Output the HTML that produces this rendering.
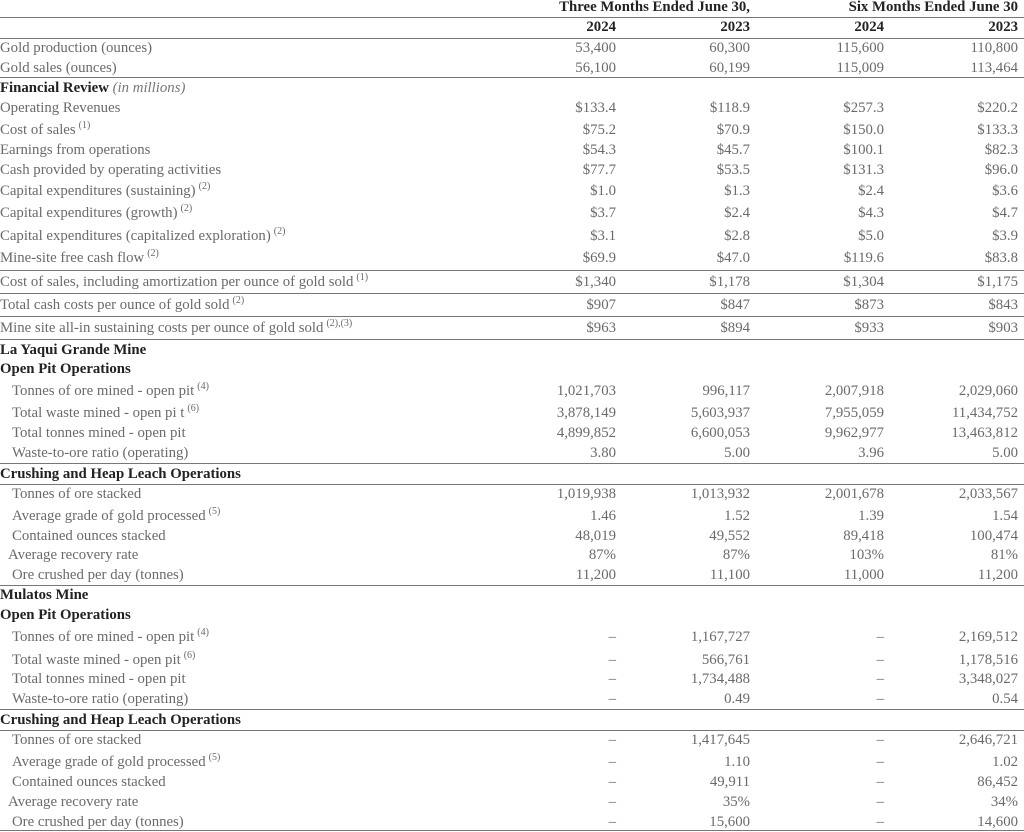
<!DOCTYPE html>
<html><head><meta charset="utf-8"><style>
html,body{margin:0;padding:0;background:#fff;}
body{width:1024px;height:832px;position:relative;overflow:hidden;font-family:"Liberation Serif",serif;font-size:14.8px;color:#6a6a6a;}
.r{position:absolute;left:0;width:1024px;height:18px;line-height:18px;white-space:nowrap;}
.l{position:absolute;left:0;}
.i{left:12px;}.i8{left:8px;}
.v{position:absolute;text-align:right;width:130px;}
.c1{right:408px;}.c2{right:274px;}.c3{right:140px;}.c4{right:6px;}
.b{font-weight:bold;color:#222;}
sup{font-size:10px;vertical-align:6px;line-height:0;margin-left:3px;}
.ln{position:absolute;left:0;width:1024px;height:0;border-top:1.5px solid #777;}
.em{font-style:italic;font-weight:normal;color:#777;}
</style></head><body>
<div class="r b" style="top:-2px"><span class="v" style="width:300px;right:274px">Three Months Ended June 30,</span><span class="v c4" style="width:300px">Six Months Ended June 30</span></div>
<div class="ln" style="top:17px"></div>
<div class="r b" style="top:18px"><span class="v c1">2024</span><span class="v c2">2023</span><span class="v c3">2024</span><span class="v c4">2023</span></div>
<div class="ln" style="top:38px"></div>
<div class="r" style="top:39px"><span class="l">Gold production (ounces)</span><span class="v c1">53,400</span><span class="v c2">60,300</span><span class="v c3">115,600</span><span class="v c4">110,800</span></div>
<div class="r" style="top:59px"><span class="l">Gold sales (ounces)</span><span class="v c1">56,100</span><span class="v c2">60,199</span><span class="v c3">115,009</span><span class="v c4">113,464</span></div>
<div class="ln" style="top:77px"></div>
<div class="r" style="top:79px"><span class="l b">Financial Review <span class="em">(in millions)</span></span></div>
<div class="r" style="top:99px"><span class="l">Operating Revenues</span><span class="v c1">$133.4</span><span class="v c2">$118.9</span><span class="v c3">$257.3</span><span class="v c4">$220.2</span></div>
<div class="r" style="top:121px"><span class="l">Cost of sales<sup>(1)</sup></span><span class="v c1">$75.2</span><span class="v c2">$70.9</span><span class="v c3">$150.0</span><span class="v c4">$133.3</span></div>
<div class="r" style="top:141px"><span class="l">Earnings from operations</span><span class="v c1">$54.3</span><span class="v c2">$45.7</span><span class="v c3">$100.1</span><span class="v c4">$82.3</span></div>
<div class="r" style="top:161px"><span class="l">Cash provided by operating activities</span><span class="v c1">$77.7</span><span class="v c2">$53.5</span><span class="v c3">$131.3</span><span class="v c4">$96.0</span></div>
<div class="r" style="top:182px"><span class="l">Capital expenditures (sustaining)<sup>(2)</sup></span><span class="v c1">$1.0</span><span class="v c2">$1.3</span><span class="v c3">$2.4</span><span class="v c4">$3.6</span></div>
<div class="r" style="top:204px"><span class="l">Capital expenditures (growth)<sup>(2)</sup></span><span class="v c1">$3.7</span><span class="v c2">$2.4</span><span class="v c3">$4.3</span><span class="v c4">$4.7</span></div>
<div class="r" style="top:227px"><span class="l">Capital expenditures (capitalized exploration)<sup>(2)</sup></span><span class="v c1">$3.1</span><span class="v c2">$2.8</span><span class="v c3">$5.0</span><span class="v c4">$3.9</span></div>
<div class="r" style="top:249px"><span class="l">Mine-site free cash flow<sup>(2)</sup></span><span class="v c1">$69.9</span><span class="v c2">$47.0</span><span class="v c3">$119.6</span><span class="v c4">$83.8</span></div>
<div class="ln" style="top:270px"></div>
<div class="r" style="top:273px"><span class="l">Cost of sales, including amortization per ounce of gold sold<sup>(1)</sup></span><span class="v c1">$1,340</span><span class="v c2">$1,178</span><span class="v c3">$1,304</span><span class="v c4">$1,175</span></div>
<div class="ln" style="top:293px"></div>
<div class="r" style="top:296px"><span class="l">Total cash costs per ounce of gold sold<sup>(2)</sup></span><span class="v c1">$907</span><span class="v c2">$847</span><span class="v c3">$873</span><span class="v c4">$843</span></div>
<div class="ln" style="top:316px"></div>
<div class="r" style="top:319px"><span class="l">Mine site all-in sustaining costs per ounce of gold sold<sup>(2),(3)</sup></span><span class="v c1">$963</span><span class="v c2">$894</span><span class="v c3">$933</span><span class="v c4">$903</span></div>
<div class="ln" style="top:339px"></div>
<div class="r" style="top:341px"><span class="l b">La Yaqui Grande Mine</span></div>
<div class="r" style="top:360px"><span class="l b">Open Pit Operations</span></div>
<div class="r" style="top:382px"><span class="l i">Tonnes of ore mined - open pit<sup>(4)</sup></span><span class="v c1">1,021,703</span><span class="v c2">996,117</span><span class="v c3">2,007,918</span><span class="v c4">2,029,060</span></div>
<div class="r" style="top:404px"><span class="l i">Total waste mined - open pi t<sup>(6)</sup></span><span class="v c1">3,878,149</span><span class="v c2">5,603,937</span><span class="v c3">7,955,059</span><span class="v c4">11,434,752</span></div>
<div class="r" style="top:424px"><span class="l i">Total tonnes mined - open pit</span><span class="v c1">4,899,852</span><span class="v c2">6,600,053</span><span class="v c3">9,962,977</span><span class="v c4">13,463,812</span></div>
<div class="r" style="top:444px"><span class="l i">Waste-to-ore ratio (operating)</span><span class="v c1">3.80</span><span class="v c2">5.00</span><span class="v c3">3.96</span><span class="v c4">5.00</span></div>
<div class="ln" style="top:463px"></div>
<div class="r" style="top:465px"><span class="l b">Crushing and Heap Leach Operations</span></div>
<div class="ln" style="top:484px"></div>
<div class="r" style="top:485px"><span class="l i">Tonnes of ore stacked</span><span class="v c1">1,019,938</span><span class="v c2">1,013,932</span><span class="v c3">2,001,678</span><span class="v c4">2,033,567</span></div>
<div class="r" style="top:507px"><span class="l i">Average grade of gold processed<sup>(5)</sup></span><span class="v c1">1.46</span><span class="v c2">1.52</span><span class="v c3">1.39</span><span class="v c4">1.54</span></div>
<div class="r" style="top:527px"><span class="l i">Contained ounces stacked</span><span class="v c1">48,019</span><span class="v c2">49,552</span><span class="v c3">89,418</span><span class="v c4">100,474</span></div>
<div class="r" style="top:546px"><span class="l i8">Average recovery rate</span><span class="v c1">87%</span><span class="v c2">87%</span><span class="v c3">103%</span><span class="v c4">81%</span></div>
<div class="r" style="top:566px"><span class="l i">Ore crushed per day (tonnes)</span><span class="v c1">11,200</span><span class="v c2">11,100</span><span class="v c3">11,000</span><span class="v c4">11,200</span></div>
<div class="ln" style="top:585px"></div>
<div class="r" style="top:586px"><span class="l b">Mulatos Mine</span></div>
<div class="r" style="top:606px"><span class="l b">Open Pit Operations</span></div>
<div class="r" style="top:628px"><span class="l i">Tonnes of ore mined - open pit<sup>(4)</sup></span><span class="v c1">–</span><span class="v c2">1,167,727</span><span class="v c3">–</span><span class="v c4">2,169,512</span></div>
<div class="r" style="top:651px"><span class="l i">Total waste mined - open pit<sup>(6)</sup></span><span class="v c1">–</span><span class="v c2">566,761</span><span class="v c3">–</span><span class="v c4">1,178,516</span></div>
<div class="r" style="top:670px"><span class="l i">Total tonnes mined - open pit</span><span class="v c1">–</span><span class="v c2">1,734,488</span><span class="v c3">–</span><span class="v c4">3,348,027</span></div>
<div class="r" style="top:690px"><span class="l i">Waste-to-ore ratio (operating)</span><span class="v c1">–</span><span class="v c2">0.49</span><span class="v c3">–</span><span class="v c4">0.54</span></div>
<div class="ln" style="top:709px"></div>
<div class="r" style="top:711px"><span class="l b">Crushing and Heap Leach Operations</span></div>
<div class="ln" style="top:730px"></div>
<div class="r" style="top:731px"><span class="l i">Tonnes of ore stacked</span><span class="v c1">–</span><span class="v c2">1,417,645</span><span class="v c3">–</span><span class="v c4">2,646,721</span></div>
<div class="r" style="top:753px"><span class="l i">Average grade of gold processed<sup>(5)</sup></span><span class="v c1">–</span><span class="v c2">1.10</span><span class="v c3">–</span><span class="v c4">1.02</span></div>
<div class="r" style="top:773px"><span class="l i">Contained ounces stacked</span><span class="v c1">–</span><span class="v c2">49,911</span><span class="v c3">–</span><span class="v c4">86,452</span></div>
<div class="r" style="top:793px"><span class="l i8">Average recovery rate</span><span class="v c1">–</span><span class="v c2">35%</span><span class="v c3">–</span><span class="v c4">34%</span></div>
<div class="r" style="top:813px"><span class="l i">Ore crushed per day (tonnes)</span><span class="v c1">–</span><span class="v c2">15,600</span><span class="v c3">–</span><span class="v c4">14,600</span></div>
<div class="ln" style="top:830px"></div>
</body></html>
